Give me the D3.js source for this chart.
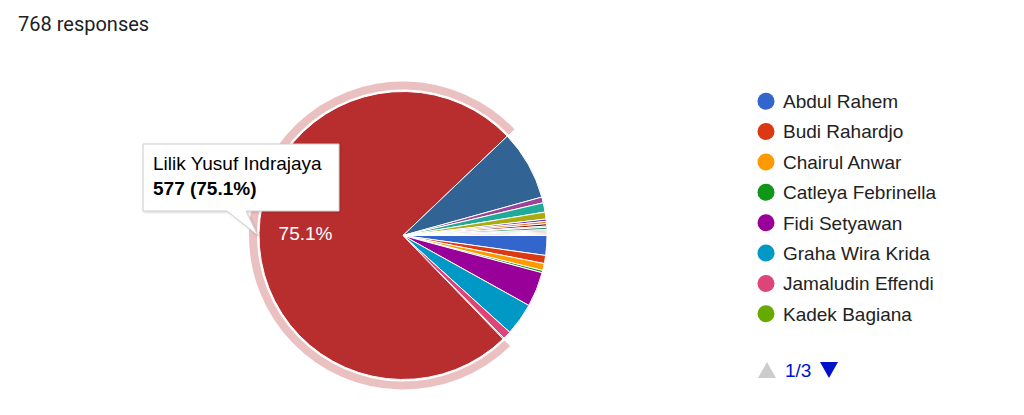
<!DOCTYPE html>
<html>
<head>
<meta charset="utf-8">
<script src="https://cdn.jsdelivr.net/npm/d3@7"></script>
<style>
  html, body { margin: 0; padding: 0; background: #fff; }
  svg { display: block; }
</style>
</head>
<body>
<svg id="chart" width="1024" height="415"></svg>
<script>
// ---- data ----
const title = "768 responses";
const names = [
  "Abdul Rahem", "Budi Rahardjo", "Chairul Anwar", "Catleya Febrinella",
  "Fidi Setyawan", "Graha Wira Krida", "Jamaludin Effendi", "Kadek Bagiana",
  "Lilik Yusuf Indrajaya", "Kandidat 10", "Kandidat 11", "Kandidat 12",
  "Kandidat 13", "Kandidat 14", "Kandidat 15", "Kandidat 16",
  "Kandidat 17", "Kandidat 18", "Kandidat 19", "Kandidat 20",
  "Kandidat 21", "Kandidat 22", "Kandidat 23"
];
const counts = [17, 7, 6, 2, 30, 28, 7, 1, 577, 60, 5, 8, 6, 2, 2, 2, 1, 2, 1, 1, 1, 1, 1];
const colors = [
  "#3366cc", "#dc3912", "#ff9900", "#109618", "#990099", "#0099c6", "#dd4477", "#66aa00",
  "#b82e2e", "#316395", "#994499", "#22aa99", "#aaaa11", "#6633cc", "#e67300", "#8b0707",
  "#651067", "#329262", "#5574a6", "#3b3eac", "#b77322", "#16d620", "#b91383"
];
const highlightIndex = 8;
const legendPage = 1, legendPages = 3, legendPerPage = 8;

// ---- layout ----
const svg = d3.select("#chart");
const cx = 403, cy = 235.5, R = 144;
const total = d3.sum(counts);
const data = names.map((n, i) => ({ name: n, value: counts[i], color: colors[i], i }));

svg.append("text")
  .attr("x", 18).attr("y", 31)
  .attr("font-family", "Roboto, 'Noto Sans', sans-serif")
  .attr("font-size", 20)
  .attr("fill", "#202124")
  .text(title);

const pie = d3.pie().value(d => d.value).sort(null)
  .startAngle(Math.PI / 2).endAngle(Math.PI / 2 + 2 * Math.PI);
const arcs = pie(data);
const arc = d3.arc().innerRadius(0).outerRadius(R);

const g = svg.append("g").attr("transform", `translate(${cx},${cy})`);

// halo around highlighted slice
const hl = arcs[highlightIndex];
g.append("path")
  .attr("d", d3.arc().innerRadius(R + 2).outerRadius(R + 10)({ startAngle: hl.startAngle, endAngle: hl.endAngle }))
  .attr("fill", hl.data.color)
  .attr("fill-opacity", 0.3);

g.selectAll("path.slice")
  .data(arcs)
  .enter().append("path")
  .attr("class", "slice")
  .attr("d", arc)
  .attr("fill", d => d.data.color)
  .attr("stroke", "#fff")
  .attr("stroke-width", 1)
  .attr("stroke-linejoin", "round");

// percentage label in highlighted slice
const mid = (hl.startAngle + hl.endAngle) / 2;
const lr = R * 0.677;
g.append("text")
  .attr("x", lr * Math.sin(mid))
  .attr("y", -lr * Math.cos(mid))
  .attr("dy", "0.35em")
  .attr("text-anchor", "middle")
  .attr("font-family", "Arial, 'Liberation Sans', sans-serif")
  .attr("font-size", 19)
  .attr("fill", "#fff")
  .text(d3.format(".1%")(hl.data.value / total));

// ---- legend ----
const legendItems = data.slice((legendPage - 1) * legendPerPage, legendPage * legendPerPage);
const ly = d3.scaleBand().domain(legendItems.map(d => d.name)).range([86, 329]).padding(0);
const lg = svg.append("g");
const row = lg.selectAll("g.row").data(legendItems).enter().append("g")
  .attr("transform", d => `translate(0,${ly(d.name) + ly.bandwidth() / 2})`);
row.append("circle").attr("cx", 766).attr("cy", 0).attr("r", 8.5).attr("fill", d => d.color);
row.append("text")
  .attr("x", 783).attr("y", 0).attr("dy", "0.36em")
  .attr("font-family", "Arial, 'Liberation Sans', sans-serif")
  .attr("font-size", 19)
  .attr("fill", "#222")
  .text(d => d.name);

// pager
const py = 370;
lg.append("path").attr("d", `M758,${py + 8} L767,${py - 8} L776,${py + 8} Z`).attr("fill", "#cccccc");
lg.append("text").attr("x", 785).attr("y", py).attr("dy", "0.36em")
  .attr("font-family", "Arial, 'Liberation Sans', sans-serif")
  .attr("font-size", 19).attr("fill", "#0011cc")
  .text(`${legendPage}/${legendPages}`);
lg.append("path").attr("d", `M820,${py - 8} L838,${py - 8} L829,${py + 8} Z`).attr("fill", "#0011cc");

// ---- tooltip ----
const defs = svg.append("defs");
const f = defs.append("filter").attr("id", "sh").attr("x", "-10%").attr("y", "-10%").attr("width", "130%").attr("height", "140%");
f.append("feDropShadow").attr("dx", 1).attr("dy", 1).attr("stdDeviation", 1.2).attr("flood-color", "#000").attr("flood-opacity", 0.18);

const tipX = cx - R - 1, tipY = cy;
const bx = 143, by = 144, bw = 196, bh = 67;
const tt = svg.append("g");
tt.append("path")
  .attr("d", `M${bx},${by} H${bx + bw} V${by + bh} H${bx + 103} L${tipX},${tipY} L${bx + 84},${by + bh} H${bx} Z`)
  .attr("fill", "#fff")
  .attr("stroke", "#cccccc")
  .attr("stroke-width", 1)
  .attr("filter", "url(#sh)");
tt.append("text").attr("x", bx + 10).attr("y", by + 26)
  .attr("font-family", "Arial, 'Liberation Sans', sans-serif")
  .attr("font-size", 19).attr("fill", "#000")
  .text(hl.data.name);
tt.append("text").attr("x", bx + 10).attr("y", by + 51)
  .attr("font-family", "Arial, 'Liberation Sans', sans-serif")
  .attr("font-size", 19).attr("font-weight", "bold").attr("fill", "#000")
  .text(`${hl.data.value} (${d3.format(".1%")(hl.data.value / total)})`);
</script>
</body>
</html>
